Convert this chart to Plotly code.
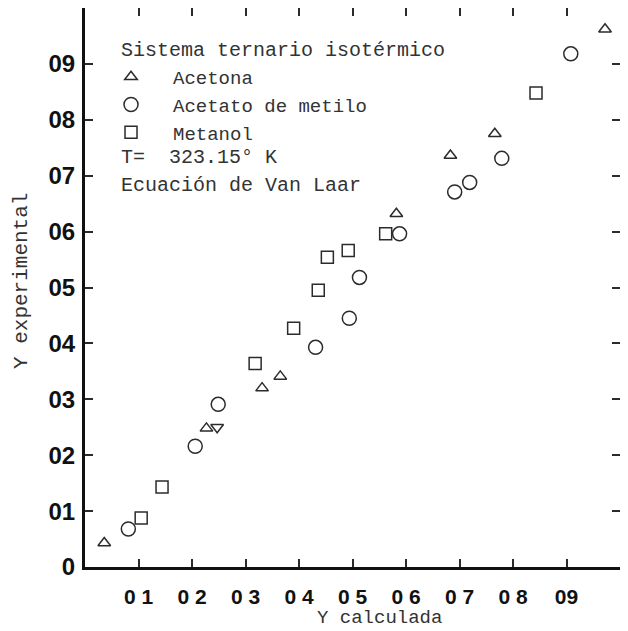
import plotly.graph_objects as go

# ---- data ----
acetona_x = [0.036, 0.227, 0.247, 0.331, 0.365, 0.582, 0.683, 0.766, 0.972]
acetona_y = [0.043, 0.248, 0.250, 0.320, 0.341, 0.632, 0.736, 0.775, 0.962]

acetato_x = [0.081, 0.206, 0.249, 0.431, 0.494, 0.513, 0.588, 0.691, 0.719, 0.779, 0.908]
acetato_y = [0.068, 0.216, 0.291, 0.393, 0.445, 0.518, 0.596, 0.671, 0.688, 0.731, 0.918]

metanol_x = [0.105, 0.144, 0.318, 0.390, 0.436, 0.453, 0.492, 0.562, 0.843]
metanol_y = [0.0875, 0.143, 0.364, 0.427, 0.495, 0.554, 0.566, 0.596, 0.848]

x_tickvals = [0.1, 0.2, 0.3, 0.4, 0.5, 0.6, 0.7, 0.8, 0.9]
x_ticktext = ["0 1", "0 2", "0 3", "0 4", "0 5", "0 6", "0 7", "0 8", "09"]
y_tickvals = [0.0, 0.1, 0.2, 0.3, 0.4, 0.5, 0.6, 0.7, 0.8, 0.9]
y_ticktext = ["0", "01", "02", "03", "04", "05", "06", "07", "08", "09"]

# ---- style ----
INK = "#2b2b2b"
TXT = "#333333"
TYPE = "Liberation Mono, Courier New, monospace"
BOLD = "Liberation Sans, Arial, sans-serif"

# the one inverted triangle seen in the scan
acetona_symbols = ["triangle-up-open"] * len(acetona_x)
acetona_symbols[2] = "triangle-down-open"

fig = go.Figure()
fig.add_trace(go.Scatter(
    x=acetona_x, y=acetona_y, mode="markers", name="Acetona",
    marker=dict(symbol=acetona_symbols, size=11, color=INK, line=dict(width=1.5, color=INK)),
))
fig.add_trace(go.Scatter(
    x=acetato_x, y=acetato_y, mode="markers", name="Acetato de metilo",
    marker=dict(symbol="circle-open", size=14, color=INK, line=dict(width=1.5, color=INK)),
))
fig.add_trace(go.Scatter(
    x=metanol_x, y=metanol_y, mode="markers", name="Metanol",
    marker=dict(symbol="square-open", size=12, color=INK, line=dict(width=1.5, color=INK)),
))

# page body adds an 8px offset; plot area spans x 85..620, y 8..567 of the window
fig.update_layout(
    width=620, height=623,
    margin=dict(l=77, r=8, t=0, b=64),
    paper_bgcolor="white", plot_bgcolor="white",
    showlegend=True,
    legend=dict(
        x=0.0075, y=0.9106, xanchor="left", yanchor="top",
        bgcolor="rgba(0,0,0,0)", borderwidth=0,
        font=dict(family=TYPE, size=19, color=TXT),
        itemwidth=74, tracegroupgap=0,
    ),
    xaxis=dict(
        range=[0, 1], tickvals=x_tickvals, ticktext=x_ticktext,
        ticks="inside", ticklen=8, tickwidth=2, tickcolor=INK,
        showline=True, linewidth=3, linecolor="#111111", mirror="ticks",
        showgrid=False, zeroline=False, automargin=False,
        tickfont=dict(family=BOLD, size=21, color="#111111", weight="bold"),
        ticklabelstandoff=9,
    ),
    yaxis=dict(
        range=[0, 1], tickvals=y_tickvals, ticktext=y_ticktext,
        ticks="inside", ticklen=8, tickwidth=2, tickcolor=INK,
        showline=True, linewidth=3, linecolor="#111111", mirror="ticks",
        showgrid=False, zeroline=False, automargin=False,
        tickfont=dict(family=BOLD, size=24, color="#111111", weight="bold"),
        ticklabelstandoff=2,
    ),
)

# title of the key and extra notes
fig.add_annotation(x=0.0636, y=0.9231, xref="paper", yref="paper", xanchor="left", yanchor="middle",
                   text="Sistema ternario isotérmico", showarrow=False,
                   font=dict(family=TYPE, size=20, color=TXT))
fig.add_annotation(x=0.0636, y=0.732, xref="paper", yref="paper", xanchor="left", yanchor="middle",
                   text="T=  323.15° K", showarrow=False,
                   font=dict(family=TYPE, size=20, color=TXT))
fig.add_annotation(x=0.0636, y=0.683, xref="paper", yref="paper", xanchor="left", yanchor="middle",
                   text="Ecuación de Van Laar", showarrow=False,
                   font=dict(family=TYPE, size=20, color=TXT))

# axis titles
fig.add_annotation(x=0.551, y=-0.0912, xref="paper", yref="paper", xanchor="center", yanchor="middle",
                   text="Y calculada", showarrow=False, borderpad=0,
                   font=dict(family=TYPE, size=19, color=TXT))
fig.add_annotation(x=-0.1196, y=0.5116, xref="paper", yref="paper", xanchor="center", yanchor="middle",
                   text="Y experimental", showarrow=False, textangle=-90,
                   font=dict(family=TYPE, size=21, color=TXT))

fig.write_html("out.html")
